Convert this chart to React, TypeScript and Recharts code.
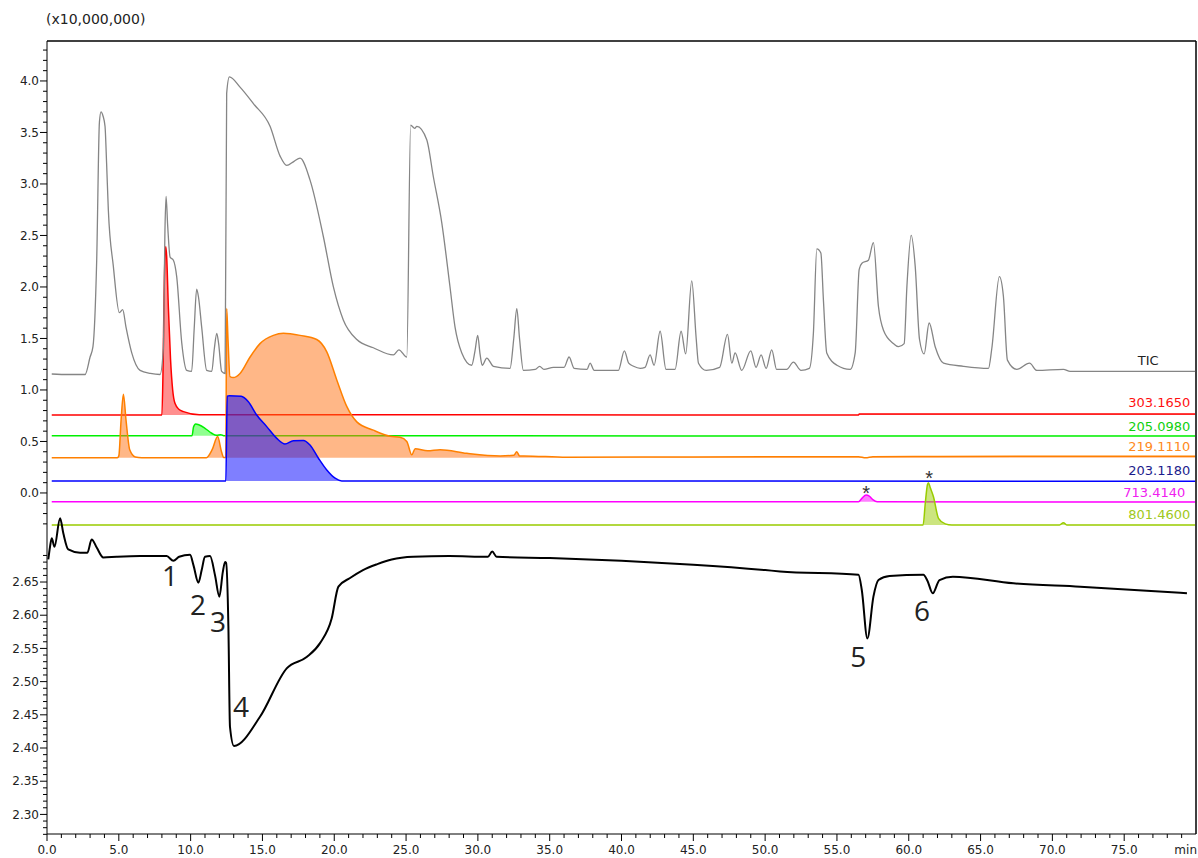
import React from 'react';
import { ComposedChart, Line, Area, XAxis, YAxis, ReferenceDot, ReferenceLine } from 'recharts';

// chromatogram: TIC + extracted ion traces (x10,000,000, stacked with offsets) and a UV trace below
const ticTrace = [
  [0.33, 1.155], [1.5, 1.15], [2.65, 1.15], [3.0, 1.32], [3.2, 1.42], [3.46, 2.26], [3.65, 3.6], [3.76, 3.7],
  [3.9, 3.66], [4.04, 3.56], [4.15, 3.2], [4.27, 2.75], [4.62, 2.2], [5.04, 1.75], [5.27, 1.78], [5.5, 1.61],
  [5.9, 1.36], [6.48, 1.19], [7.2, 1.16], [7.87, 1.15], [8.1, 1.4], [8.22, 2.6], [8.29, 2.88], [8.4, 2.6],
  [8.57, 2.29], [8.8, 2.26], [9.03, 2.1], [9.38, 1.46], [9.73, 1.19], [10.07, 1.18], [10.25, 1.6], [10.42, 1.98],
  [10.55, 1.9], [10.77, 1.61], [11.12, 1.19], [11.47, 1.18], [11.65, 1.4], [11.82, 1.55], [11.95, 1.45],
  [12.16, 1.18], [12.4, 1.16], [12.51, 3.88], [12.7, 4.04], [13.44, 3.94], [14.37, 3.78], [15.53, 3.56],
  [16.23, 3.27], [16.69, 3.18], [17.2, 3.22], [17.62, 3.25], [18.31, 3.04], [19.24, 2.49], [19.94, 2.0],
  [20.63, 1.68], [21.57, 1.49], [22.72, 1.41], [24.12, 1.34], [24.5, 1.39], [25.05, 1.32], [25.32, 3.57],
  [25.6, 3.54], [25.75, 3.56], [26.44, 3.43], [26.9, 3.07], [27.49, 2.62], [28.06, 2.0], [28.41, 1.61],
  [28.88, 1.36], [29.57, 1.24], [29.8, 1.38], [29.99, 1.53], [30.15, 1.35], [30.3, 1.24], [30.62, 1.31],
  [31.08, 1.23], [32.24, 1.21], [32.5, 1.5], [32.71, 1.79], [32.9, 1.5], [33.17, 1.19], [34.0, 1.2],
  [34.3, 1.23], [34.6, 1.2], [35.26, 1.22], [36.0, 1.22], [36.35, 1.32], [36.7, 1.21], [37.6, 1.2],
  [37.81, 1.26], [38.1, 1.19], [39.78, 1.19], [40.2, 1.38], [40.5, 1.26], [40.84, 1.23], [41.3, 1.21],
  [41.64, 1.22], [41.99, 1.34], [42.27, 1.24], [42.69, 1.57], [43.1, 1.2], [43.73, 1.2], [44.15, 1.57],
  [44.47, 1.35], [44.89, 2.06], [45.2, 1.5], [45.36, 1.26], [45.9, 1.19], [46.83, 1.22], [47.38, 1.54],
  [47.68, 1.26], [47.91, 1.36], [48.37, 1.19], [49.0, 1.38], [49.37, 1.22], [49.72, 1.34], [50.07, 1.21],
  [50.46, 1.39], [50.8, 1.2], [51.5, 1.2], [51.97, 1.27], [52.5, 1.19], [53.08, 1.21], [53.36, 1.55],
  [53.6, 2.37], [53.88, 2.33], [54.06, 1.87], [54.29, 1.36], [55.0, 1.24], [55.92, 1.2], [56.27, 1.36],
  [56.55, 2.17], [56.74, 2.23], [57.19, 2.26], [57.54, 2.43], [57.89, 1.81], [58.24, 1.58], [58.94, 1.45],
  [59.29, 1.42], [59.68, 1.45], [59.87, 2.0], [60.17, 2.5], [60.45, 2.2], [60.75, 1.49], [61.07, 1.35],
  [61.42, 1.65], [61.84, 1.42], [62.42, 1.26], [63.81, 1.23], [65.55, 1.21], [65.78, 1.4], [66.31, 2.1],
  [66.59, 1.91], [66.87, 1.29], [67.52, 1.2], [68.41, 1.26], [68.92, 1.19], [70.77, 1.2], [71.24, 1.18],
  [79.94, 1.18],
];
const mz303 = [
  [0.33, 0.757], [8.0, 0.757], [8.08, 1.2], [8.15, 1.9], [8.22, 2.32], [8.27, 2.39], [8.33, 2.3], [8.45, 1.8],
  [8.6, 1.3], [8.75, 1.0], [8.91, 0.87], [9.2, 0.81], [9.5, 0.79], [10.6, 0.76], [56.5, 0.757], [56.55, 0.767],
  [79.94, 0.767],
];
const mz205 = [
  [0.33, 0.556], [10.1, 0.556], [10.2, 0.64], [10.35, 0.67], [10.6, 0.66], [11.0, 0.628], [11.47, 0.58],
  [11.8, 0.56], [12.1, 0.566], [12.3, 0.556], [79.94, 0.553],
];
const mz219 = [
  [0.33, 0.343], [4.9, 0.343], [5.0, 0.36], [5.16, 0.71], [5.32, 0.958], [5.5, 0.71], [5.76, 0.42], [6.15, 0.35],
  [6.6, 0.343], [11.1, 0.343], [11.5, 0.42], [11.88, 0.547], [12.15, 0.4], [12.3, 0.345], [12.45, 0.345],
  [12.51, 1.79], [12.6, 1.5], [12.74, 1.13], [12.97, 1.12], [13.44, 1.16], [14.14, 1.32], [14.83, 1.45],
  [15.76, 1.53], [16.46, 1.55], [17.62, 1.53], [18.78, 1.49], [19.48, 1.37], [20.17, 1.1], [20.87, 0.84],
  [21.57, 0.69], [22.72, 0.61], [23.89, 0.55], [24.58, 0.54], [25.05, 0.5], [25.4, 0.37], [25.63, 0.43],
  [26.5, 0.41], [27.37, 0.42], [29.23, 0.385], [31.55, 0.36], [32.5, 0.365], [32.71, 0.4], [32.9, 0.36],
  [33.2, 0.36], [36.19, 0.347], [45.0, 0.35], [56.5, 0.352], [57.0, 0.342], [57.5, 0.352], [62.0, 0.355],
  [79.94, 0.357],
];
const mz203 = [
  [0.33, 0.117], [12.45, 0.117], [12.55, 0.94], [12.7, 0.945], [13.52, 0.94], [14.02, 0.886], [14.6, 0.757],
  [15.3, 0.644], [16.0, 0.53], [16.57, 0.476], [17.15, 0.508], [17.85, 0.51], [18.31, 0.466], [18.9, 0.337],
  [19.48, 0.223], [20.06, 0.143], [20.52, 0.117], [79.94, 0.113],
];
const mz713 = [
  [0.33, -0.086], [56.5, -0.086], [56.75, -0.05], [57.03, -0.019], [57.25, -0.03], [57.5, -0.065],
  [57.8, -0.086], [79.94, -0.088],
];
const mz801 = [
  [0.33, -0.311], [61.0, -0.311], [61.15, -0.1], [61.3, 0.08], [61.37, 0.1], [61.5, 0.05], [61.72, -0.036],
  [62.07, -0.246], [62.54, -0.3], [63.0, -0.311], [70.5, -0.311], [70.77, -0.288], [71.0, -0.311],
  [79.94, -0.311],
];
const uvTrace = [
  [0.09, 2.684], [0.21, 2.703], [0.33, 2.716], [0.52, 2.703], [0.91, 2.746], [1.14, 2.723], [1.48, 2.699],
  [2.3, 2.694], [2.81, 2.694], [3.11, 2.714], [3.46, 2.702], [3.92, 2.687], [4.85, 2.688], [6.48, 2.689],
  [8.33, 2.689], [8.8, 2.682], [9.2, 2.688], [9.96, 2.691], [10.2, 2.675], [10.54, 2.649], [10.77, 2.668],
  [11.0, 2.688], [11.35, 2.689], [11.7, 2.66], [12.0, 2.628], [12.24, 2.665], [12.4, 2.68], [12.47, 2.679],
  [12.63, 2.583], [12.74, 2.432], [13.02, 2.403], [14.83, 2.447], [16.69, 2.52], [18.08, 2.537],
  [19.01, 2.558], [19.82, 2.595], [20.29, 2.643], [21.1, 2.656], [22.0, 2.668], [23.0, 2.677], [24.0, 2.684],
  [25.5, 2.688], [28.0, 2.689], [30.7, 2.688], [31.0, 2.696], [31.3, 2.688], [35.0, 2.686], [40.0, 2.682],
  [45.0, 2.676], [50.0, 2.668], [51.04, 2.666], [56.5, 2.661], [56.73, 2.638], [57.12, 2.565], [57.54, 2.628],
  [57.89, 2.653], [58.66, 2.659], [61.02, 2.661], [61.3, 2.652], [61.67, 2.633], [62.14, 2.653],
  [63.07, 2.658], [67.29, 2.648], [71.94, 2.643], [76.58, 2.637], [79.37, 2.633],
];

const msTickLabels = ['0.0', '0.5', '1.0', '1.5', '2.0', '2.5', '3.0', '3.5', '4.0'];
const uvTickLabels = ['2.30', '2.35', '2.40', '2.45', '2.50', '2.55', '2.60', '2.65'];
const timeTickLabels = ['0.0', '5.0', '10.0', '15.0', '20.0', '25.0', '30.0', '35.0', '40.0', '45.0', '50.0',
  '55.0', '60.0', '65.0', '70.0', '75.0'];

// right-hand trace names: [name, colour, time, level]
const traceLabels: [string, string, number, number][] = [
  ['TIC', '#222222', 77.4, 1.29],
  ['303.1650', '#ff1010', 79.6, 0.874],
  ['205.0980', '#10d010', 79.6, 0.65],
  ['219.1110', '#ff8a20', 79.6, 0.45],
  ['203.1180', '#1c1c8c', 79.6, 0.223],
  ['713.4140', '#f020f0', 79.25, 0.003],
  ['801.4600', '#a0c820', 79.6, -0.207],
];
// peak numbers on the UV trace: [text, time, uv level]
const peakNumbers: [string, number, number][] = [
  ['1', 8.57, 2.659], ['2', 10.52, 2.615], ['3', 11.91, 2.59], ['4', 13.51, 2.462],
  ['5', 56.48, 2.537], ['6', 60.93, 2.606],
];
const stars: [number, number][] = [[57.03, 0.078], [61.42, 0.223]];

const MS_MIN = -3.311;
const MS_MAX = 4.388;
const UV_MIN = 2.2705;
const UV_MAX = 3.4648;
const T_MAX = 80;
const uvToMs = (u: number) => MS_MIN + ((u - UV_MIN) / (UV_MAX - UV_MIN)) * (MS_MAX - MS_MIN);

const pts = (arr: number[][]) => arr.map(([t, v]) => ({ t, v }));

// y ticks: minor every 0.1 / 0.01, labelled ones from the label lists
const yTickInfo = new Map<string, string>();
const yTicks: number[] = [];
for (let i = -3; i <= 43; i++) {
  const v = i / 10;
  const lab = msTickLabels.find((s) => Math.abs(parseFloat(s) - v) < 1e-6) || '';
  yTicks.push(v);
  yTickInfo.set(v.toFixed(5), lab);
}
for (let i = 227; i <= 269; i++) {
  const u = i / 100;
  const lab = uvTickLabels.find((s) => Math.abs(parseFloat(s) - u) < 1e-6) || '';
  const v = uvToMs(u);
  yTicks.push(v);
  yTickInfo.set(v.toFixed(5), lab);
}
const xTicks: number[] = [];
for (let i = 0; i <= T_MAX; i++) xTicks.push(i);

const FONT = '"DejaVu Sans", Verdana, sans-serif';

function YTick(props: any) {
  const { x, y, payload } = props;
  const key = Number(payload.value).toFixed(5);
  if (!yTickInfo.has(key)) return null;
  const lab = yTickInfo.get(key);
  const len = lab ? 7 : 4;
  return (
    <g>
      <line x1={x - len} x2={x} y1={y} y2={y} stroke="#000" strokeWidth={1} />
      {lab && (
        <text x={x - len - 1} y={y} dy="0.35em" textAnchor="end" fontSize={12} fill="#222" fontFamily={FONT}>
          {lab}
        </text>
      )}
    </g>
  );
}

function XTick(props: any) {
  const { x, y, payload } = props;
  const t = Number(payload.value);
  if (t === T_MAX) {
    return (
      <text x={x + 1} y={y + 20} textAnchor="end" fontSize={12} fill="#222" fontFamily={FONT}>
        min
      </text>
    );
  }
  const lab = timeTickLabels.find((s) => parseFloat(s) === t);
  return (
    <g>
      <line x1={x} x2={x} y1={y} y2={y + (lab ? 7 : 4)} stroke="#000" strokeWidth={1} />
      {lab && (
        <text x={x} y={y + 20} textAnchor="middle" fontSize={12} fill="#222" fontFamily={FONT}>
          {lab}
        </text>
      )}
    </g>
  );
}

const traces = [
  { id: 'r', data: mz303, base: 0.757, stroke: '#ff0000', fill: '#ff2020' },
  { id: 'g', data: mz205, base: 0.556, stroke: '#00f000', fill: '#20ff20' },
  { id: 'o', data: mz219, base: 0.343, stroke: '#ff8000', fill: '#ff7010' },
  { id: 'b', data: mz203, base: 0.117, stroke: '#0000ff', fill: '#0000ff' },
  { id: 'm', data: mz713, base: -0.086, stroke: '#ff00ff', fill: '#ff00ff' },
  { id: 'y', data: mz801, base: -0.311, stroke: '#99cc00', fill: '#99cc00' },
];

export default function App() {
  return (
    <div style={{ position: 'absolute', left: 0, top: 0, width: 1198, height: 858, background: '#fff' }}>
      <div
        style={{
          position: 'absolute', left: 46, top: 11, fontSize: 14, fontFamily: FONT, color: '#222',
        }}
      >
        (x10,000,000)
      </div>
      <ComposedChart width={1198} height={858} margin={{ top: 41, right: 2, bottom: 0, left: 0 }}>
        <XAxis
          dataKey="t" type="number" domain={[0, T_MAX]} ticks={xTicks} interval={0}
          height={24} tickSize={0} tickMargin={0} tickLine={false}
          axisLine={{ stroke: '#000' }} tick={<XTick />} allowDataOverflow
        />
        <YAxis
          yAxisId="ms" type="number" domain={[MS_MIN, MS_MAX]} ticks={yTicks} interval={0}
          width={47} tickSize={0} tickMargin={0} tickLine={false}
          axisLine={{ stroke: '#000' }} tick={<YTick />} allowDataOverflow
        />
        <YAxis yAxisId="uv" type="number" domain={[UV_MIN, UV_MAX]} hide allowDataOverflow />

        {/* plot frame: top and right edges */}
        <ReferenceLine yAxisId="ms" y={MS_MAX} stroke="#000" strokeWidth={1.5} ifOverflow="extendDomain" />
        <ReferenceLine yAxisId="ms" x={T_MAX} stroke="#000" strokeWidth={1.5} ifOverflow="extendDomain" />

        <Line
          yAxisId="ms" data={pts(ticTrace)} dataKey="v" type="monotone" stroke="#858585"
          strokeWidth={1.3} dot={false} isAnimationActive={false}
        />
        {traces.map((tr) => (
          <Area
            key={tr.id} yAxisId="ms" data={pts(tr.data)} dataKey="v" type="monotone"
            baseValue={tr.base} stroke={tr.stroke} strokeWidth={1.5} fill={tr.fill} fillOpacity={0.5}
            dot={false} activeDot={false} isAnimationActive={false}
          />
        ))}
        <Line
          yAxisId="uv" data={pts(uvTrace)} dataKey="v" type="monotone" stroke="#000"
          strokeWidth={2} dot={false} isAnimationActive={false}
        />

        {traceLabels.map(([name, color, t, v]) => (
          <ReferenceDot
            key={name} yAxisId="ms" x={t} y={v} r={0}
            shape={(p: any) => (
              <text x={p.cx} y={p.cy} dy="0.35em" textAnchor="end" fontSize={13} fill={color} fontFamily={FONT}>
                {name}
              </text>
            )}
          />
        ))}
        {peakNumbers.map(([lab, t, u]) => (
          <ReferenceDot
            key={lab} yAxisId="uv" x={t} y={u} r={0}
            shape={(p: any) => (
              <text x={p.cx} y={p.cy} dy="0.36em" textAnchor="middle" fontSize={28} fill="#222"
                fontFamily='"Open Sans", sans-serif'>
                {lab}
              </text>
            )}
          />
        ))}
        {stars.map(([t, v]) => (
          <ReferenceDot
            key={t} yAxisId="ms" x={t} y={v} r={0}
            shape={(p: any) => (
              <text x={p.cx} y={p.cy} dy="0.75em" textAnchor="middle" fontSize={20} fill="#333"
                fontFamily='"Liberation Sans", sans-serif'>
                *
              </text>
            )}
          />
        ))}
      </ComposedChart>
    </div>
  );
}
